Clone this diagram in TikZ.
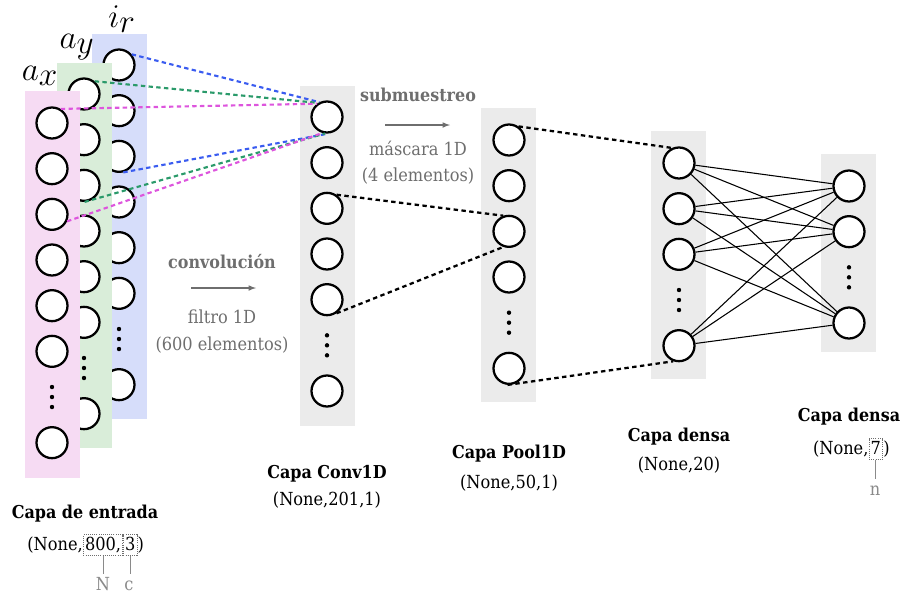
\documentclass[tikz,border=0pt]{standalone}
\usepackage{fontspec}
\setmainfont{DejaVu Serif Condensed}
\usetikzlibrary{arrows,positioning}

\definecolor{irFill}{HTML}{D6DDFA}
\definecolor{ayFill}{HTML}{D9EDD9}
\definecolor{axFill}{HTML}{F6DBF3}
\definecolor{layerFill}{HTML}{EBEBEB}
\definecolor{irLine}{HTML}{3A5CF0}
\definecolor{ayLine}{HTML}{2A9A6A}
\definecolor{axLine}{HTML}{DD55DD}
\definecolor{stepGray}{HTML}{6E6E6E}
\definecolor{noteGray}{HTML}{8A8A8A}

\tikzset{
    neuron/.style={circle,draw,fill=white,line width=1.7pt,minimum size=23.25pt,inner sep=0pt,outer sep=.85pt},
    skip/.style={circle,minimum size=23.25pt,inner sep=0pt,outer sep=.85pt},
    dense/.style={line width=.8pt},
    kernel/.style={draw=#1,line width=1.6pt,dash pattern=on 3.3pt off 2.5pt},
    pooled/.style={line width=1.7pt,dash pattern=on 3.3pt off 2.6pt},
    flow/.style={-latex,draw=stepGray,line width=.9pt},
    layertitle/.style={font=\bfseries\fontsize{13.3}{16}\selectfont,anchor=base},
    layershape/.style={font=\fontsize{13.5}{16}\selectfont,anchor=base},
    steptitle/.style={font=\bfseries\fontsize{13.3}{16}\selectfont,text=stepGray,anchor=base},
    stepnote/.style={font=\fontsize{13.5}{16}\selectfont,text=stepGray,anchor=base},
    chain/.style={font=\fontsize{13.5}{16}\selectfont,inner sep=0pt,text height=9.5pt,text depth=2pt},
    dimbox/.style={chain,draw=stepGray,densely dotted,line width=.6pt,inner xsep=1.2pt,inner ysep=2pt},
    note/.style={font=\fontsize{13.5}{16}\selectfont,text=noteGray,inner sep=3.5pt,text height=8.5pt,text depth=0pt,anchor=base},
    tick/.style={draw=noteGray,line width=.7pt},
    channel/.style={font=\fontsize{23}{26}\selectfont}
}

\begin{document}
\begin{tikzpicture}[x=0.75pt,y=-0.75pt,node distance=9.3pt]
\useasboundingbox (0,0) rectangle (901,594);

% entrada, canal i_r
\fill[irFill] (92,34) rectangle (147,419);
\node[neuron] (ir1) at (119,65) {};
\foreach \i [count=\j from 2] in {1,...,5}
    \node[neuron,below=of ir\i] (ir\j) {};
\node[skip,below=of ir6] (ir7) {};
\node[neuron,below=of ir7] (ir8) {};

% entrada, canal a_y
\fill[ayFill] (57,63) rectangle (112,448);
\node[neuron] (ay1) at (84,94) {};
\foreach \i [count=\j from 2] in {1,...,5}
    \node[neuron,below=of ay\i] (ay\j) {};
\node[skip,below=of ay6] (ay7) {};
\node[neuron,below=of ay7] (ay8) {};

% entrada, canal a_x
\fill[axFill] (25,91) rectangle (80,478);
\node[neuron] (ax1) at (52,123) {};
\foreach \i [count=\j from 2] in {1,...,5}
    \node[neuron,below=of ax\i] (ax\j) {};
\node[skip,below=of ax6] (ax7) {};
\node[neuron,below=of ax7] (ax8) {};

% Conv1D
\fill[layerFill] (300,86) rectangle (355,426);
\node[neuron] (cv1) at (327,117) {};
\foreach \i [count=\j from 2] in {1,...,4}
    \node[neuron,below=of cv\i] (cv\j) {};
\node[skip,below=of cv5] (cv6) {};
\node[neuron,below=of cv6] (cv7) {};

% Pool1D
\fill[layerFill] (481,108) rectangle (536,402);
\node[neuron] (pl1) at (509,140) {};
\foreach \i [count=\j from 2] in {1,...,3}
    \node[neuron,below=of pl\i] (pl\j) {};
\node[skip,below=of pl4] (pl5) {};
\node[neuron,below=of pl5] (pl6) {};

% densa (20)
\fill[layerFill] (651,131) rectangle (706,379);
\node[neuron] (dn1) at (679,163) {};
\node[neuron,below=of dn1] (dn2) {};
\node[neuron,below=of dn2] (dn3) {};
\node[skip,below=of dn3] (dn4) {};
\node[neuron,below=of dn4] (dn5) {};

% densa (7)
\fill[layerFill] (821,154) rectangle (876,352);
\node[neuron] (ou1) at (849,186) {};
\node[neuron,below=of ou1] (ou2) {};
\node[skip,below=of ou2] (ou3) {};
\node[neuron,below=of ou3] (ou4) {};

% todas con todas
\foreach \a in {1,2,3,5}
    \foreach \b in {1,2,4}
        \draw[dense] (dn\a) -- (ou\b);

% ventana del filtro
\draw[kernel=irLine] (ir1.40) -- (cv1.117) (ir3.-75) -- (cv1.-86);
\draw[kernel=ayLine] (ay1.50) -- (cv1.122) (ay3.-88) -- (cv1.-97);
\draw[kernel=axLine] (ax1.58) -- (cv1.127) (ax3.-25) -- (cv1.-106);

% submuestreo y salida a la densa
\draw[pooled] (cv3.55) -- (pl3.110);
\draw[pooled] (cv5.-55) -- (pl3.-110);
\draw[pooled] (pl1.55) -- (dn1.115);
\draw[pooled] (pl6.-95) -- (dn5.-110);

% puntos suspensivos
\foreach \d in {ir7,ay7,ax7,cv6,pl5,dn4,ou3}
    \fill (\d) ++(0,-10) circle (2.2) ++(0,10) circle (2.2) ++(0,10) circle (2.2);

% canales
\node[channel] (axLab) at (40,76) {$a_{\displaystyle x}$};
\node[channel] (ayLab) at (77,47) {$a_{\displaystyle y}$};
\node[channel] (irLab) at (122,19) {$i_{\displaystyle r}$};

% operaciones
\node[steptitle] (convT) at (222,268) {convolución};
\coordinate (convA) at (191,288);
\coordinate (convB) at (256,288);
\draw[flow] (convA) -- (convB);
\node[stepnote] (convF) at (222,323) {filtro 1D};
\node[stepnote] (convN) at (222,350) {(600 elementos)};

\node[steptitle] (poolT) at (418,101) {submuestreo};
\coordinate (poolA) at (385,125);
\coordinate (poolB) at (450,125);
\draw[flow] (poolA) -- (poolB);
\node[stepnote] (poolF) at (418,155) {máscara 1D};
\node[stepnote] (poolN) at (418,181) {(4 elementos)};

% nombres de capa
\node[layertitle] (inT) at (85,518) {Capa de entrada};
\node[dimbox,anchor=base west] (inN) at (83,550) {800,};
\node[chain,base left=0pt of inN] (inA) {(None,};
\node[dimbox,base right=0pt of inN] (inC) {3};
\node[chain,base right=0pt of inC] (inD) {)};
\node[note] (inNlab) at (103,590) {N};
\node[note] (inClab) at (129,590) {c};
\draw[tick] (inN.south) -- (inN.south |- inNlab.north);
\draw[tick] (inC.south) -- (inC.south |- inClab.north);

\node[layertitle] (cvT) at (327,478) {Capa Conv1D};
\node[layershape] (cvS) at (327,505) {(None,201,1)};

\node[layertitle] (plT) at (509,458) {Capa Pool1D};
\node[layershape] (plS) at (509,488) {(None,50,1)};

\node[layertitle] (dnT) at (679,441) {Capa densa};
\node[layershape] (dnS) at (679,470) {(None,20)};

\node[layertitle] (ouT) at (849,421) {Capa densa};
\node[dimbox,anchor=base east] (ouN) at (883,454) {7};
\node[chain,base left=0pt of ouN] (ouA) {(None,};
\node[chain,base right=0pt of ouN] (ouD) {)};
\node[note] (ouNlab) at (875,495) {n};
\draw[tick] (ouN.south) -- (ouN.south |- ouNlab.north);

\end{tikzpicture}
\end{document}
